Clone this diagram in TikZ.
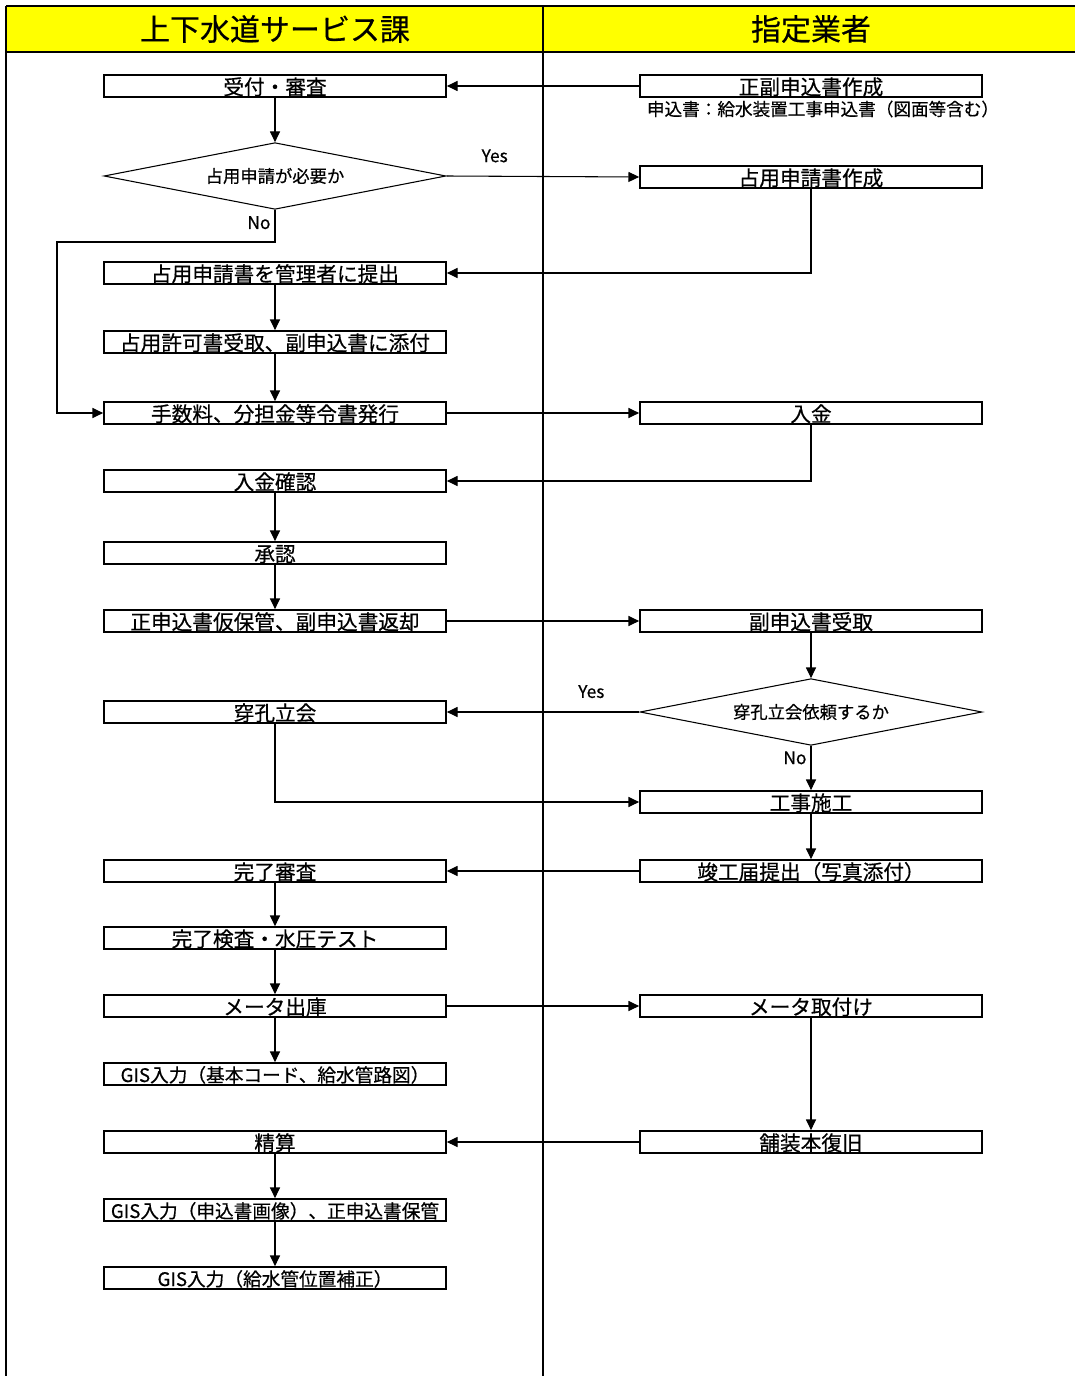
\documentclass[tikz,border=0pt]{standalone}
\usepackage{fontspec}
\setmainfont{Noto Sans CJK JP}[RawFeature={embolden=0.5}]
\usetikzlibrary{arrows.meta,positioning,shapes.geometric}
\definecolor{kiiro}{RGB}{255,255,0}
\tikzset{
  hako/.style={draw,line width=1.3pt,minimum width=256.5pt,minimum height=16.5pt,inner sep=0pt,
               text height=13pt,text depth=0pt,font=\fontsize{15.5}{15.5}\selectfont},
  gis/.style={hako,text height=12pt,font=\fontsize{14}{14}\selectfont},
  hishi/.style={draw,diamond,aspect=5,line width=0.8pt,minimum width=256.5pt,minimum height=50pt,
                inner sep=0pt,font=\fontsize{13}{13}\selectfont},
  yaji/.style={-{Triangle[length=8pt,width=7.5pt]},line width=0.8pt},
  waku/.style={line width=1.6pt},
  midashi/.style={font=\fontsize{22.5}{22.5}\selectfont},
  kotae/.style={font=\fontsize{13}{13}\selectfont,inner sep=1pt},
  chu/.style={font=\fontsize{13.2}{13.2}\selectfont,inner sep=0pt},
}
\begin{document}
\begin{tikzpicture}[x=0.75pt,y=-0.75pt]
  \useasboundingbox (0,0) rectangle (1075,1376);
  % header and lanes
  \fill[kiiro] (6,6) rectangle (1075,52);
  \draw[waku] (6,6) -- (1075,6);
  \draw[waku] (6,52) -- (1075,52);
  \draw[waku] (6,6) -- (6,1376);
  \draw[waku] (543,6) -- (543,1376);
  \node[midashi] (ka) at (275,29) {上下水道サービス課};
  \node[midashi] (gyosha) at (811,29) {指定業者};

  % left lane
  \node[hako] (uketsuke) at (275,86) {受付・審査};
  \node[hishi] (hantei1) at (275,176) {占用申請が必要か};
  \node[hako] (teishutsu) at (275,273) {占用申請書を管理者に提出};
  \node[hako] (kyoka) at (275,342) {占用許可書受取、副申込書に添付};
  \node[hako] (tesuryo) at (275,413) {手数料、分担金等令書発行};
  \node[hako] (kakunin) at (275,481) {入金確認};
  \node[hako] (shonin) at (275,553) {承認};
  \node[hako] (karihokan) at (275,621) {正申込書仮保管、副申込書返却};
  \node[hako] (tachiai) at (275,712) {穿孔立会};
  \node[hako] (shinsa) at (275,871) {完了審査};
  \node[hako] (kensa) at (275,938) {完了検査・水圧テスト};
  \node[hako] (shukko) at (275,1006) {メータ出庫};
  \node[gis] (gis1) at (275,1074) {GIS入力（基本コード、給水管路図）};
  \node[hako] (seisan) at (275,1142) {精算};
  \node[gis] (gis2) at (275,1210) {GIS入力（申込書画像）、正申込書保管};
  \node[gis] (gis3) at (275,1278) {GIS入力（給水管位置補正）};

  % right lane
  \node[hako] (shofuku) at (811,86) {正副申込書作成};
  \node[chu] (chushaku) at (823,109) {申込書：給水装置工事申込書（図面等含む）};
  \node[hako] (senyo) at (811,177) {占用申請書作成};
  \node[hako] (nyukin) at (811,413) {入金};
  \node[hako] (fukuuke) at (811,621) {副申込書受取};
  \node[hishi] (hantei2) at (811,712) {穿孔立会依頼するか};
  \node[hako] (koji) at (811,802) {工事施工};
  \node[hako] (shunko) at (811,871) {竣工届提出（写真添付）};
  \node[hako] (toritsuke) at (811,1006) {メータ取付け};
  \node[hako] (hosou) at (811,1142) {舗装本復旧};

  \coordinate (nokado) at (57,242);

  \draw[yaji] (shofuku) -- (uketsuke);
  \draw[yaji] (uketsuke) -- (hantei1);
  \draw[yaji] (hantei1.east) -- node[kotae,above=9pt,pos=0.25] {Yes} (senyo.west);
  \draw[yaji] (hantei1.south) |- node[kotae,left=2pt,pos=0.2] {No} (nokado) |- (tesuryo.west);
  \draw[yaji] (senyo.south) |- (teishutsu.east);
  \draw[yaji] (teishutsu) -- (kyoka);
  \draw[yaji] (kyoka) -- (tesuryo);
  \draw[yaji] (tesuryo) -- (nyukin);
  \draw[yaji] (nyukin.south) |- (kakunin.east);
  \draw[yaji] (kakunin) -- (shonin);
  \draw[yaji] (shonin) -- (karihokan);
  \draw[yaji] (karihokan) -- (fukuuke);
  \draw[yaji] (fukuuke) -- (hantei2);
  \draw[yaji] (hantei2.west) -- node[kotae,above=9pt,pos=0.25] {Yes} (tachiai.east);
  \draw[yaji] (hantei2.south) -- node[kotae,left=2pt,pos=0.27] {No} (koji.north);
  \draw[yaji] (tachiai.south) |- (koji.west);
  \draw[yaji] (koji) -- (shunko);
  \draw[yaji] (shunko) -- (shinsa);
  \draw[yaji] (shinsa) -- (kensa);
  \draw[yaji] (kensa) -- (shukko);
  \draw[yaji] (shukko) -- (gis1);
  \draw[yaji] (shukko) -- (toritsuke);
  \draw[yaji] (toritsuke) -- (hosou);
  \draw[yaji] (hosou) -- (seisan);
  \draw[yaji] (seisan) -- (gis2);
  \draw[yaji] (gis2) -- (gis3);
\end{tikzpicture}
\end{document}
